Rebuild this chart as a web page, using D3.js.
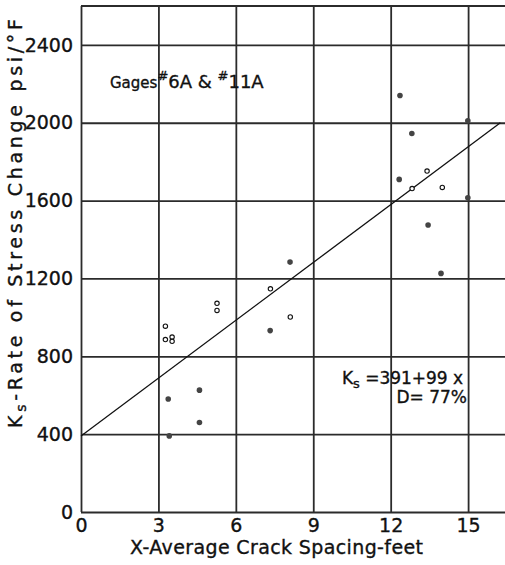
<!DOCTYPE html>
<html>
<head>
<meta charset="utf-8">
<script src="https://cdn.jsdelivr.net/npm/d3@7"></script>
<style>
  body { margin: 0; background: #fff; }
  svg { display: block; }
  text { font-family: "DejaVu Sans", sans-serif; fill: #111; stroke: #111; stroke-width: 0.35px; }
  .grid line { stroke: #2b2b2b; stroke-width: 1.8; }
  .grid text { font-size: 19px; }
</style>
</head>
<body>
<div id="chart"></div>
<script>
// readings
let xTicks = [0, 3, 6, 9, 12, 15];
let yTicks = [0, 400, 800, 1200, 1600, 2000, 2400];

// open circles (x = crack spacing ft, y = Ks psi/°F)
let openX = [3.27, 3.27, 3.53, 3.53, 5.27, 5.27, 7.34, 8.11, 13.41, 12.83, 14.0];
let openY = [955, 886, 899, 877, 1072, 1036, 1147, 1002, 1752, 1662, 1668];

// filled dots
let fillX = [3.38, 4.59, 4.59, 3.42, 8.10, 7.33, 12.36, 12.82, 14.99, 12.33, 14.99, 13.45, 13.95];
let fillY = [581, 626, 460, 391, 1284, 932, 2140, 1945, 2010, 1709, 1615, 1475, 1226];

// fitted line Ks = 391 + 99x
let fitA = 391, fitB = 99, fitEnd = 16.25;

let W = 505, H = 565;
let margin = { top: 6, right: 0, bottom: 53, left: 81 };

let svg = d3.select('#chart').append('svg')
    .attr('width', W)
    .attr('height', H);

let x = d3.scaleLinear().domain([0, 16.43]).range([margin.left, W]);
let y = d3.scaleLinear().domain([0, 2600]).range([H - margin.bottom, margin.top]);

let plotW = W - margin.left;
let plotH = H - margin.bottom - margin.top;

// horizontal grid + y labels
let gy = svg.append('g')
    .attr('class', 'grid')
    .attr('transform', 'translate(' + margin.left + ',0)')
    .call(d3.axisLeft(y).tickValues(yTicks).tickSize(-plotW).tickPadding(8).tickFormat(d3.format('d')));
gy.select('.domain').remove();

// vertical grid + x labels
let gx = svg.append('g')
    .attr('class', 'grid')
    .attr('transform', 'translate(0,' + (H - margin.bottom) + ')')
    .call(d3.axisBottom(x).tickValues(xTicks).tickSize(-plotH).tickPadding(7));
gx.select('.domain').remove();

// top border
svg.append('line')
    .attr('x1', margin.left).attr('x2', W)
    .attr('y1', y(2600)).attr('y2', y(2600))
    .attr('stroke', '#2b2b2b').attr('stroke-width', 1.8);

// regression line
svg.append('line')
    .attr('x1', x(0)).attr('y1', y(fitA))
    .attr('x2', x(fitEnd)).attr('y2', y(fitA + fitB * fitEnd))
    .attr('stroke', '#111').attr('stroke-width', 1.3);

// filled dots
svg.selectAll('.dot')
    .data(fillX.map((v, i) => [v, fillY[i]]))
  .enter().append('circle')
    .attr('class', 'dot')
    .attr('cx', (d) => x(d[0]))
    .attr('cy', (d) => y(d[1]))
    .attr('r', 2.8)
    .attr('fill', '#444');

// open circles
svg.selectAll('.ring')
    .data(openX.map((v, i) => [v, openY[i]]))
  .enter().append('circle')
    .attr('class', 'ring')
    .attr('cx', (d) => x(d[0]))
    .attr('cy', (d) => y(d[1]))
    .attr('r', 2.2)
    .attr('fill', '#fff')
    .attr('stroke', '#111')
    .attr('stroke-width', 1.1);

// axis titles
svg.append('text')
    .attr('x', 130).attr('y', 554)
    .attr('textLength', 293).attr('lengthAdjust', 'spacing')
    .style('font-size', '19px')
    .text('X-Average Crack Spacing-feet');

let yt = svg.append('text')
    .attr('transform', 'translate(22,428) rotate(-90)')
    .attr('textLength', 409).attr('lengthAdjust', 'spacing')
    .style('font-size', '19px');
yt.append('tspan').text('K');
yt.append('tspan').attr('dy', 4).style('font-size', '14px').text('s');
yt.append('tspan').attr('dy', -4).text('-Rate of Stress Change psi/°F');

// gauges note
let note = svg.append('text').attr('x', 110).attr('y', 88).style('font-size', '15px');
note.append('tspan').text('Gages');
note.append('tspan').attr('dy', -8).style('font-size', '13px').text('#');
note.append('tspan').attr('dy', 8).style('font-size', '18px').text('6A & ');
note.append('tspan').attr('dy', -8).style('font-size', '13px').text('#');
note.append('tspan').attr('dy', 8).style('font-size', '18px').text('11A');

// equation
let eq = svg.append('text').attr('x', 342).attr('y', 384)
    .attr('textLength', 121).attr('lengthAdjust', 'spacing')
    .style('font-size', '17px');
eq.append('tspan').text('K');
eq.append('tspan').attr('dy', 4).style('font-size', '13px').text('s');
eq.append('tspan').attr('dy', -4).text(' =391+99 x');

svg.append('text')
    .attr('x', 467).attr('y', 403)
    .attr('text-anchor', 'end')
    .style('font-size', '17px')
    .text('D= 77%');
</script>
</body>
</html>
